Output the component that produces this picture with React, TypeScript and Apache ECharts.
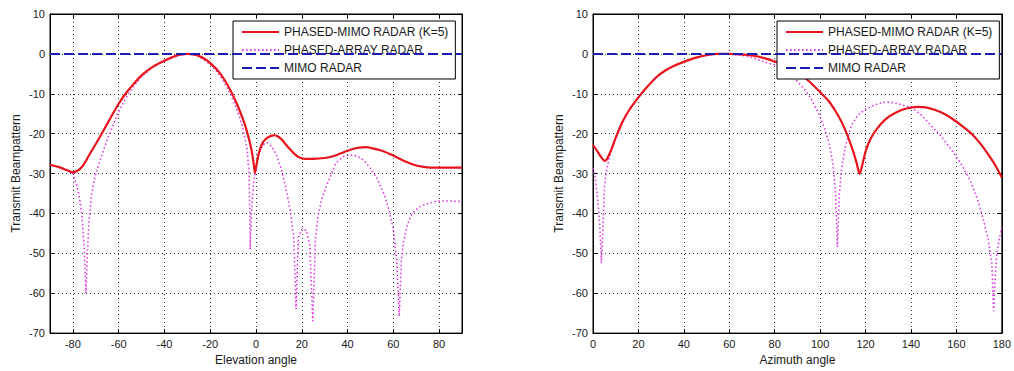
import React, { useEffect, useRef } from "react";
import * as echarts from "echarts";

// ---------- data ----------
const NAME_PM = "PHASED-MIMO RADAR (K=5)";
const NAME_PA = "PHASED-ARRAY RADAR";
const NAME_MIMO = "MIMO RADAR";

const ELEV_TICKS = [-80, -60, -40, -20, 0, 20, 40, 60, 80];
const AZ_TICKS = [0, 20, 40, 60, 80, 100, 120, 140, 160, 180];
const Y_TICKS = [10, 0, -10, -20, -30, -40, -50, -60, -70];

// Elevation: phased-MIMO
const ELEV_PM_X = [-90, -86, -82, -80, -78, -76, -74, -72, -70, -67, -64, -60, -57, -54, -50, -45, -40, -35, -32, -30, -28, -25, -22, -20, -17, -14, -11, -8, -5, -3, -2, -1, -0.5, 0, 1, 2, 3, 5, 7, 8, 9, 11, 13, 15, 17, 19, 21, 25, 30, 34, 38, 42, 45, 48, 51, 55, 60, 65, 70, 73, 76, 80, 85, 90];
const ELEV_PM_Y = [-27.8, -28.4, -29.3, -29.7, -29.3, -28.3, -26.5, -24.5, -22.6, -19.6, -16.5, -12.5, -10.0, -7.9, -5.4, -3.2, -1.7, -0.5, -0.1, 0, -0.1, -0.5, -1.4, -2.3, -4.0, -6.3, -9.3, -13.0, -17.5, -21.5, -24.0, -27.5, -29.8, -28.5, -25.5, -23.5, -22.2, -21.0, -20.5, -20.4, -20.5, -21.3, -22.7, -24.0, -25.2, -26.0, -26.3, -26.3, -26.1, -25.6, -24.7, -23.9, -23.5, -23.4, -23.7, -24.3, -25.5, -26.9, -28.0, -28.3, -28.5, -28.5, -28.5, -28.5];

// Elevation: phased-array
const ELEV_PA_X = [-90, -86, -82, -80, -78, -77, -76, -75, -74.3, -73.5, -73, -72, -71, -70, -68, -65, -62, -60, -57, -54, -50, -45, -40, -35, -30, -25, -20, -17, -14, -11, -8, -6, -4, -3, -2.5, -2, -1, 0, 1, 3, 5, 7, 9, 11, 13, 15, 16.5, 17.5, 18.5, 20, 22, 23.5, 24.8, 26, 27.2, 29, 31, 35, 38, 41, 44, 47, 50, 53, 56, 58, 60, 61.5, 62.6, 63.5, 64.3, 66, 68, 71, 74, 79, 85, 90];
const ELEV_PA_Y = [-27.8, -28.4, -29.3, -30.0, -33.5, -36.5, -41, -49, -60, -48, -42, -36, -32.5, -30, -26.5, -21.5, -17.3, -14.5, -11.2, -8.5, -5.7, -3.3, -1.7, -0.5, 0, -0.6, -2.6, -4.5, -7.0, -10.3, -14.5, -18, -23.5, -30, -49, -40, -32, -29, -25.5, -22.8, -22.3, -23.3, -25.5, -28.8, -33.5, -39.5, -46, -64, -46, -43.9, -44.2, -48, -67, -46, -40.2, -35.8, -32.8, -27.3, -25.8, -25.3, -25.6, -26.6, -28.7, -31.3, -35.2, -39, -44, -52, -65.8, -52, -47.6, -43, -40.2, -38.5, -37.7, -36.9, -36.9, -37];

// Azimuth: phased-MIMO
const AZ_PM_X = [0, 2, 4, 5, 6, 8, 10, 13, 16, 20, 24, 28, 32, 36, 40, 45, 50, 55, 60, 65, 70, 75, 80, 85, 90, 95, 100, 104, 108, 111, 114, 116, 117.4, 118.5, 120, 122, 125, 129, 133, 138, 143, 148, 153, 158, 163, 167, 171, 174, 177, 180];
const AZ_PM_Y = [-22.8, -24.5, -26.2, -26.8, -26.5, -24.1, -21.0, -17.0, -14.0, -10.9, -8.2, -5.8, -4.1, -2.9, -2.0, -1.0, -0.3, 0, 0, -0.1, -0.4, -1.0, -1.9, -3.2, -4.7, -6.8, -9.6, -12.0, -15.5, -19.0, -23.5, -27.2, -30.1, -28, -24.5, -21.5, -18.8, -16.3, -14.8, -13.7, -13.3, -13.6, -14.6, -16.2, -18.3, -20.2, -22.8, -25.2, -27.8, -31.0];

// Azimuth: phased-array
const AZ_PA_X = [0, 1, 2, 3, 3.7, 4.5, 5.1, 6, 7, 8, 10, 13, 16, 20, 24, 28, 32, 36, 40, 45, 50, 55, 60, 65, 70, 75, 80, 85, 90, 93, 96, 99, 102, 104, 105.7, 106.8, 107.6, 108.5, 109.3, 111, 113.7, 116.5, 119.5, 124, 128.3, 131, 135, 139.9, 144, 148.7, 153, 157.4, 162, 166.2, 169, 172, 174, 175.6, 176.4, 177.2, 177.8, 179, 180];
const AZ_PA_Y = [-28.6, -31, -36, -43, -52.5, -42, -33, -29, -26.5, -24.3, -21.3, -17.2, -14.1, -11, -8.2, -5.8, -4.1, -2.9, -2.0, -1.0, -0.3, 0, 0, -0.3, -0.9, -1.9, -2.8, -4.5, -6.9, -8.8, -11.2, -14.5, -18.7, -22.5, -27.8, -35, -48.4, -35, -29.5, -23.5, -17.9, -15.5, -14.0, -12.8, -12.1, -12.1, -12.6, -13.4, -15, -17.9, -20.5, -23.7, -27.5, -31.9, -36, -41.8, -46.5, -52.6, -64.5, -55, -50.1, -46, -43.5];

// MIMO (flat at 0 dB)
const ELEV_MIMO_X = [-90, 90];
const AZ_MIMO_X = [0, 180];
const MIMO_Y = [0, 0];

// ---------- styles ----------
const FONT = "Liberation Sans, Arial, sans-serif";
const TXT = "#1a1a1a";
const RED = "#e8141c";
const MAG = "#e040e0";
const BLUE = "#1c1cb4";

const pairs = (xs: number[], ys: number[]) => xs.map((x, i) => [x, ys[i]]);

function xAxes(gridIndex: number, min: number, max: number, ticks: number[], name: string) {
  const base = {
    type: "value",
    gridIndex,
    min,
    max,
    splitNumber: 9,
    axisLine: { show: true, onZero: false, lineStyle: { color: "#000", width: 1 } },
    axisTick: { show: true, inside: true, length: 4, lineStyle: { color: "#000" } },
  };
  return [
    {
      ...base,
      position: "bottom",
      name,
      nameLocation: "middle",
      nameGap: 20,
      nameTextStyle: { fontFamily: FONT, fontSize: 12, color: TXT },
      axisLabel: {
        fontFamily: FONT,
        fontSize: 11,
        color: TXT,
        margin: 5,
        showMinLabel: ticks.includes(min),
        showMaxLabel: ticks.includes(max),
      },
      splitLine: { show: true, lineStyle: { color: "#333", type: [1, 3], width: 1 } },
    },
    {
      ...base,
      position: "top",
      axisLabel: { show: false },
      splitLine: { show: false },
    },
  ];
}

function yAxes(gridIndex: number) {
  const base = {
    type: "value",
    gridIndex,
    min: Y_TICKS[Y_TICKS.length - 1],
    max: Y_TICKS[0],
    interval: 10,
    axisLine: { show: true, onZero: false, lineStyle: { color: "#000", width: 1 } },
    axisTick: { show: true, inside: true, length: 4, lineStyle: { color: "#000" } },
  };
  return [
    {
      ...base,
      position: "left",
      name: "Transmit Beampattern",
      nameLocation: "middle",
      nameGap: 28,
      nameTextStyle: { fontFamily: FONT, fontSize: 12, color: TXT },
      axisLabel: { fontFamily: FONT, fontSize: 11, color: TXT, margin: 5 },
      splitLine: { show: true, lineStyle: { color: "#333", type: [1, 3], width: 1 } },
    },
    {
      ...base,
      position: "right",
      axisLabel: { show: false },
      splitLine: { show: false },
    },
  ];
}

function seriesFor(xi: number, yi: number, pm: number[][], pa: number[][], mimo: number[][]) {
  return [
    {
      name: NAME_PM,
      type: "line",
      xAxisIndex: xi,
      yAxisIndex: yi,
      data: pm,
      symbol: "none",
      smooth: 0.25,
      color: RED,
      lineStyle: { color: RED, width: 2.2 },
      z: 3,
    },
    {
      name: NAME_PA,
      type: "line",
      xAxisIndex: xi,
      yAxisIndex: yi,
      data: pa,
      symbol: "none",
      color: MAG,
      lineStyle: { color: MAG, width: 1.6, type: [1.6, 2.4] },
      z: 2,
    },
    {
      name: NAME_MIMO,
      type: "line",
      xAxisIndex: xi,
      yAxisIndex: yi,
      data: mimo,
      symbol: "none",
      color: BLUE,
      lineStyle: { color: BLUE, width: 2, type: [10, 4] },
      z: 4,
    },
  ];
}

function legendAt(left: number) {
  return {
    left,
    top: 21,
    orient: "vertical",
    data: [NAME_PM, NAME_PA, NAME_MIMO],
    backgroundColor: "#fff",
    borderColor: "#000",
    borderWidth: 1,
    padding: [5, 7, 5, 8],
    itemWidth: 37,
    itemHeight: 12,
    itemGap: 6,
    selectedMode: false,
    itemStyle: { opacity: 0, color: "transparent", borderWidth: 0 },
    textStyle: { fontFamily: FONT, fontSize: 12, color: TXT },
  };
}

export default function App() {
  const ref = useRef<HTMLDivElement>(null);
  useEffect(() => {
    if (!ref.current) return;
    const chart = echarts.init(ref.current, undefined, { renderer: "svg" });
    chart.setOption({
      animation: false,
      backgroundColor: "#fff",
      textStyle: { fontFamily: FONT },
      grid: [
        { left: 50, top: 14, width: 412, height: 323, show: true, borderColor: "#000", borderWidth: 1, backgroundColor: "#fff" },
        { left: 593, top: 14, width: 412, height: 323, show: true, borderColor: "#000", borderWidth: 1, backgroundColor: "#fff" },
      ],
      xAxis: [
        ...xAxes(0, -90, 90, ELEV_TICKS, "Elevation angle"),
        ...xAxes(1, 0, 180, AZ_TICKS, "Azimuth angle"),
      ],
      yAxis: [...yAxes(0), ...yAxes(1)],
      legend: [legendAt(233), legendAt(777)],
      series: [
        ...seriesFor(0, 0, pairs(ELEV_PM_X, ELEV_PM_Y), pairs(ELEV_PA_X, ELEV_PA_Y), pairs(ELEV_MIMO_X, MIMO_Y)),
        ...seriesFor(2, 2, pairs(AZ_PM_X, AZ_PM_Y), pairs(AZ_PA_X, AZ_PA_Y), pairs(AZ_MIMO_X, MIMO_Y)),
      ],
    });
    return () => chart.dispose();
  }, []);
  return (
    <div
      ref={ref}
      style={{ position: "fixed", left: 0, top: 0, width: 1014, height: 371, background: "#fff" }}
    />
  );
}
